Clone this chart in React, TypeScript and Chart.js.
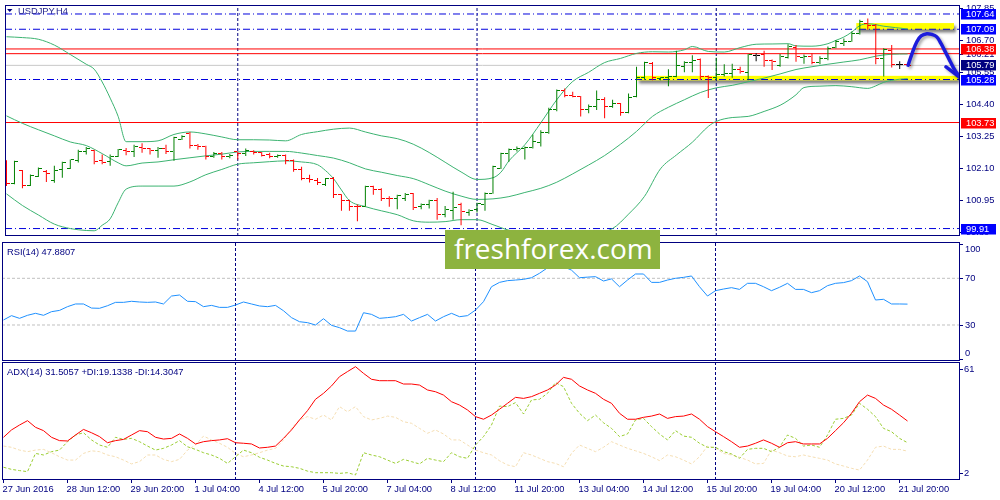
import React, { useEffect, useRef } from "react";
import { Chart, registerables } from "chart.js";
Chart.register(...registerables);

// ---------- DATA ----------
const opens = [102.35, 101.53, 102.00, 101.46, 101.80, 101.98, 101.63, 102.02, 102.08, 102.35,
  102.67, 102.73, 102.35, 102.32, 102.51, 102.74, 102.69, 102.83, 102.78, 102.74,
  102.81, 102.67, 103.13, 103.33, 102.89, 102.86, 102.52, 102.61, 102.51, 102.67,
  102.60, 102.69, 102.64, 102.58, 102.50, 102.56, 102.37, 102.02, 101.71, 101.65,
  101.51, 101.71, 101.13, 100.93, 100.72, 100.72, 101.42, 101.33, 101.01, 100.98,
  101.01, 101.16, 100.70, 100.78, 100.93, 100.40, 100.55, 100.78, 100.49, 100.61,
  100.78, 101.19, 102.09, 102.60, 102.75, 102.79, 102.83, 103.02, 103.37, 104.20,
  104.90, 104.69, 104.67, 104.20, 104.30, 104.55, 104.30, 104.43, 104.09, 104.67,
  105.34, 105.85, 105.30, 105.34, 105.39, 105.74, 105.89, 106.00, 105.39, 105.34,
  105.46, 105.48, 105.65, 105.54, 106.15, 106.18, 105.97, 105.77, 106.08, 106.43,
  106.06, 106.12, 105.89, 106.04, 106.43, 106.58, 106.66, 106.93, 107.31, 107.24,
  106.04, 106.32, 105.81, 105.81];
const highs = [102.37, 102.35, 102.02, 101.86, 102.11, 102.02, 102.17, 102.32, 102.40, 102.75,
  102.85, 102.75, 102.58, 102.58, 102.78, 102.81, 102.93, 102.98, 102.81, 102.85,
  102.93, 103.22, 103.27, 103.39, 102.96, 102.89, 102.67, 102.67, 102.60, 102.69,
  102.79, 102.73, 102.67, 102.64, 102.58, 102.58, 102.40, 102.14, 101.85, 101.73,
  101.73, 101.77, 101.15, 100.95, 100.78, 101.45, 101.45, 101.36, 101.07, 101.13,
  101.19, 101.19, 100.81, 100.95, 101.01, 100.72, 101.24, 100.84, 100.61, 100.84,
  101.21, 102.17, 102.64, 102.79, 102.87, 102.87, 103.30, 103.45, 104.26, 104.92,
  104.96, 104.84, 104.69, 104.38, 104.88, 104.64, 104.55, 104.43, 104.78, 105.74,
  105.92, 105.91, 105.36, 105.65, 106.32, 105.94, 106.15, 106.04, 105.42, 106.06,
  105.83, 105.85, 105.74, 106.20, 106.23, 106.32, 106.00, 106.20, 106.55, 106.52,
  106.18, 106.23, 106.12, 106.47, 106.70, 106.76, 107.01, 107.43, 107.48, 107.28,
  106.41, 106.52, 105.94, 105.82];
const lows = [101.44, 101.51, 101.36, 101.44, 101.77, 101.59, 101.56, 101.74, 102.06, 102.29,
  102.58, 102.23, 102.23, 102.17, 102.49, 102.55, 102.49, 102.64, 102.58, 102.46,
  102.60, 102.35, 103.10, 102.79, 102.75, 102.40, 102.46, 102.40, 102.44, 102.40,
  102.52, 102.58, 102.51, 102.44, 102.46, 102.23, 101.96, 101.65, 101.57, 101.48,
  101.44, 101.01, 100.55, 100.55, 100.17, 100.70, 101.13, 100.90, 100.70, 100.61,
  100.90, 100.58, 100.61, 100.63, 100.23, 100.32, 100.23, 100.03, 100.37, 100.49,
  100.55, 101.16, 102.06, 102.32, 102.69, 102.40, 102.79, 102.87, 103.33, 104.14,
  104.64, 104.64, 103.95, 104.06, 104.18, 103.88, 104.26, 103.97, 104.06, 104.64,
  105.27, 105.25, 105.25, 105.04, 105.36, 105.54, 105.54, 105.27, 104.61, 105.27,
  105.39, 105.34, 105.50, 105.25, 105.94, 105.74, 105.62, 105.74, 106.04, 105.92,
  105.85, 105.83, 105.83, 105.97, 106.41, 106.49, 106.64, 106.90, 107.08, 105.83,
  105.39, 105.71, 105.66, 105.78];
const closes = [101.53, 102.32, 101.46, 101.83, 102.09, 101.91, 102.00, 102.29, 102.38, 102.69,
  102.79, 102.32, 102.30, 102.52, 102.75, 102.69, 102.85, 102.78, 102.74, 102.81,
  102.67, 103.18, 103.22, 102.89, 102.87, 102.52, 102.61, 102.52, 102.56, 102.62,
  102.72, 102.64, 102.56, 102.49, 102.56, 102.37, 102.02, 101.71, 101.67, 101.56,
  101.71, 101.13, 100.93, 100.72, 100.70, 101.42, 101.33, 101.01, 100.98, 101.09,
  101.13, 100.66, 100.78, 100.93, 100.43, 100.61, 100.66, 100.51, 100.55, 100.81,
  101.16, 102.14, 102.60, 102.75, 102.81, 102.83, 103.04, 103.37, 104.20, 104.90,
  104.69, 104.67, 104.20, 104.32, 104.55, 104.32, 104.43, 104.09, 104.64, 105.36,
  105.89, 105.34, 105.34, 105.39, 105.77, 105.89, 105.97, 105.39, 105.34, 105.46,
  105.48, 105.65, 105.57, 106.18, 106.15, 105.97, 105.94, 106.12, 106.47, 106.12,
  106.12, 105.89, 106.04, 106.41, 106.64, 106.66, 106.93, 107.36, 107.24, 106.04,
  106.35, 105.81, 105.81, 105.79];

const upperX = [0, 2, 4, 6, 8, 10, 11, 12, 13, 14, 15, 17, 19, 21, 23, 25, 27, 29, 31, 33, 35, 37, 39, 41, 43, 45, 47, 49, 51, 53, 55, 57, 59, 61, 62, 63, 65, 67, 69, 71, 73, 75, 77, 79, 81, 83, 85, 86, 88, 90, 92, 94, 96, 98, 99, 101, 103, 104, 105, 106, 107, 108, 110, 113];
const upperY = [106.82, 106.79, 106.73, 106.52, 106.18, 105.83, 105.65, 105.19, 104.61, 103.95, 103.04, 103.04, 103.07, 103.30, 103.39, 103.32, 103.21, 103.11, 103.11, 103.10, 103.07, 103.30, 103.40, 103.49, 103.53, 103.39, 103.25, 103.15, 102.95, 102.65, 102.30, 101.95, 101.68, 101.74, 101.94, 102.35, 102.93, 103.72, 104.55, 105.21, 105.54, 105.89, 106.04, 106.22, 106.28, 106.27, 106.35, 106.47, 106.29, 106.27, 106.43, 106.55, 106.56, 106.57, 106.49, 106.48, 106.57, 106.69, 106.81, 106.99, 107.22, 107.29, 107.20, 107.10];
const midX = [0, 2, 4, 6, 8, 10, 12, 14, 15, 17, 19, 21, 23, 25, 27, 29, 31, 33, 35, 37, 39, 41, 43, 45, 47, 49, 51, 53, 55, 57, 59, 61, 63, 65, 67, 69, 71, 73, 75, 77, 79, 81, 83, 85, 87, 89, 91, 93, 95, 97, 99, 101, 103, 105, 107, 109, 111, 113];
const midY = [103.97, 103.70, 103.47, 103.25, 103.03, 102.90, 102.61, 102.28, 102.17, 102.27, 102.31, 102.39, 102.46, 102.53, 102.59, 102.67, 102.69, 102.69, 102.69, 102.63, 102.54, 102.45, 102.28, 102.06, 101.94, 101.82, 101.71, 101.49, 101.26, 101.08, 100.96, 100.98, 101.06, 101.21, 101.36, 101.58, 101.88, 102.20, 102.54, 102.95, 103.41, 103.95, 104.28, 104.55, 104.81, 104.98, 105.07, 105.20, 105.33, 105.48, 105.64, 105.74, 105.83, 105.91, 105.99, 106.12, 106.19, 106.20];
const lowerX = [0, 2, 4, 6, 8, 10, 11, 12, 13, 14, 15, 17, 19, 21, 23, 25, 27, 29, 31, 33, 35, 37, 39, 40, 41, 42, 43, 45, 47, 49, 51, 53, 55, 57, 59, 61, 63, 66, 70, 74, 76, 78, 80, 82, 84, 86, 88, 89, 91, 93, 95, 97, 98, 99, 100, 102, 104, 106, 108, 109, 110, 112, 113];
const lowerY = [101.16, 100.74, 100.40, 100.07, 99.91, 99.84, 99.83, 100.03, 100.26, 100.84, 101.33, 101.44, 101.44, 101.44, 101.59, 101.85, 102.04, 102.23, 102.28, 102.32, 102.35, 102.31, 102.21, 102.00, 101.71, 101.30, 100.92, 100.70, 100.55, 100.41, 100.19, 100.14, 100.16, 100.23, 100.23, 100.05, 99.85, 99.74, 99.70, 99.77, 99.91, 100.43, 101.07, 102.06, 102.56, 103.02, 103.59, 103.77, 103.91, 103.95, 104.13, 104.35, 104.52, 104.73, 104.99, 105.04, 105.06, 105.02, 104.96, 105.05, 105.18, 105.29, 105.31];

const rsi = [34.3, 38.0, 35.7, 38.3, 40.0, 38.3, 41.4, 42.5, 45.7, 48.0, 48.0, 44.5, 44.3, 46.5, 49.4, 49.4, 50.3, 49.7, 49.4, 49.7,
  48.0, 54.8, 55.7, 50.3, 50.0, 45.7, 46.8, 45.1, 45.1, 47.1, 49.7, 48.0, 46.3, 45.7, 46.8, 42.2, 36.3, 32.8, 32.0, 30.0,
  35.4, 29.7, 27.7, 24.8, 24.8, 40.5, 39.1, 35.7, 36.3, 37.1, 39.1, 33.4, 36.3, 39.1, 33.4, 37.1, 40.0, 37.1, 38.0, 42.8,
  50.0, 62.8, 66.5, 68.0, 68.5, 69.1, 70.5, 74.3, 79.0, 83.0, 80.0, 77.0, 70.5, 71.0, 71.4, 67.7, 69.5, 62.8, 68.5, 73.7,
  73.7, 66.5, 66.5, 68.5, 70.0, 70.8, 72.0, 62.8, 54.8, 59.4, 60.8, 62.0, 60.5, 65.7, 65.7, 62.8, 59.4, 62.3, 65.7, 60.5,
  60.5, 57.7, 59.4, 63.7, 65.7, 66.3, 68.0, 72.0, 67.1, 51.4, 52.0, 48.0, 48.0, 47.88];
const rsiLevels = [70, 30];

const adx = [22.2, 26.4, 29.2, 31.7, 27.9, 26.0, 22.2, 20.3, 20.1, 23.5, 26.7, 24.8, 22.6, 19.1, 20.3, 21.0, 23.5, 26.0, 25.4, 22.2,
  21.2, 21.6, 24.1, 21.6, 18.4, 19.7, 20.3, 20.7, 21.4, 19.1, 18.8, 18.4, 16.1, 16.5, 17.2, 21.6, 26.4, 32.1, 37.4, 43.9,
  47.3, 51.5, 56.8, 59.7, 62.5, 58.7, 55.3, 54.5, 54.5, 54.5, 52.6, 52.6, 52.0, 49.2, 48.2, 46.3, 42.5, 40.6, 37.8, 34.0,
  32.5, 34.9, 38.2, 41.6, 45.0, 44.4, 45.4, 47.3, 49.2, 52.0, 56.4, 55.3, 51.5, 49.2, 47.3, 43.9, 41.6, 35.9, 32.5, 32.5,
  33.6, 34.3, 35.5, 33.0, 34.0, 34.3, 35.5, 32.5, 28.3, 25.4, 22.6, 19.7, 16.5, 17.2, 18.8, 20.7, 18.8, 16.5, 19.1, 19.7,
  18.4, 18.4, 18.4, 21.6, 26.0, 30.5, 35.9, 42.5, 46.3, 44.4, 40.6, 38.2, 34.9, 31.5];
const plusDi = [5.1, 3.9, 3.2, 2.6, 13.0, 12.1, 14.0, 14.9, 19.7, 23.5, 24.8, 20.7, 17.8, 16.5, 22.2, 21.0, 21.6, 19.7, 17.2, 14.9,
  15.9, 17.8, 20.3, 16.8, 15.3, 13.4, 12.1, 10.2, 7.3, 11.1, 14.9, 13.4, 10.8, 9.2, 7.3, 5.8, 5.4, 4.5, 2.9, 2.0,
  2.0, 2.0, 1.6, 2.0, 0.7, 13.4, 12.1, 11.1, 9.2, 7.3, 9.6, 8.3, 7.0, 10.2, 9.2, 8.3, 13.4, 11.1, 10.2, 17.8,
  22.6, 29.2, 40.0, 39.7, 42.0, 35.5, 43.5, 43.9, 47.3, 53.4, 51.1, 41.6, 35.9, 31.7, 34.9, 30.5, 27.3, 22.6, 24.1, 32.1,
  33.0, 28.3, 24.1, 20.7, 26.0, 22.9, 22.2, 18.8, 16.5, 16.5, 14.0, 12.7, 10.2, 15.3, 15.9, 15.9, 14.0, 16.5, 23.5, 21.6,
  17.2, 17.8, 16.5, 23.5, 32.5, 33.0, 34.9, 41.6, 38.2, 34.0, 27.3, 25.4, 21.6, 19.13];
const minusDi = [17.2, 16.5, 14.9, 14.0, 14.9, 15.3, 13.4, 11.1, 9.2, 9.2, 13.0, 14.5, 14.0, 12.1, 11.1, 9.2, 7.0, 8.3, 12.1, 12.1,
  9.6, 8.3, 9.6, 14.9, 17.8, 22.9, 20.7, 18.8, 16.5, 13.0, 11.1, 12.1, 13.4, 14.9, 15.9, 20.7, 27.3, 32.1, 34.0, 32.5,
  34.9, 32.1, 39.7, 36.8, 39.7, 34.0, 32.1, 33.0, 34.3, 33.6, 31.1, 30.2, 27.3, 24.5, 26.4, 24.1, 20.7, 20.7, 17.8, 14.9,
  13.4, 12.1, 8.8, 6.4, 5.4, 13.4, 12.1, 10.2, 8.3, 7.3, 5.4, 13.0, 17.8, 15.9, 14.0, 16.5, 19.7, 17.8, 15.9, 14.5,
  13.0, 11.1, 8.9, 12.1, 11.1, 9.2, 7.0, 11.1, 17.2, 15.9, 13.0, 12.1, 10.8, 9.2, 7.0, 7.3, 14.9, 13.4, 11.5, 11.1,
  12.1, 11.1, 10.2, 9.2, 7.0, 5.8, 4.5, 3.5, 9.2, 16.5, 17.2, 15.3, 15.3, 14.3];

const xLabels = ["27 Jun 2016", "28 Jun 12:00", "29 Jun 20:00", "1 Jul 04:00", "4 Jul 12:00", "5 Jul 20:00", "7 Jul 04:00", "8 Jul 12:00", "11 Jul 20:00", "13 Jul 04:00", "14 Jul 12:00", "15 Jul 20:00", "19 Jul 04:00", "20 Jul 12:00", "21 Jul 20:00"];
const xLabelBars = [0, 8, 16, 24, 32, 40, 48, 56, 64, 72, 80, 88, 96, 104, 112];
const sepBars = [29, 59, 89];

const blueLevels = [107.64, 107.09, 105.28, 99.91];
const redLevels = [106.38, 106.21, 103.73];
const redBoxed = [106.38, 103.73];
const bidLevel = 105.79;
const priceTicks = [107.85, 106.70, 106.21, 105.55, 104.40, 103.25, 102.10, 100.95, 99.80];
const rsiTicks = [100, 70, 30, 0];
const adxTicks = [61, 2];

const rectX0 = [106.56, 79.06];
const rectX1 = [118.81, 119.3];
const rectTop = [107.313, 105.412];
const rectBottom = [107.083, 105.248];

const arrowX = [113.06, 113.56, 114.15, 114.69, 115.4, 116.06, 116.65, 117.19, 117.69, 118.19, 118.73, 119.31, 119.77];
const arrowY = [105.795, 106.223, 106.641, 106.850, 106.930, 106.902, 106.815, 106.571, 106.292, 106.014, 105.711, 105.457, 105.307];
const arrowHeadX = [117.81, 119.77, 119.94];
const arrowHeadY = [105.735, 105.307, 105.84];

// ---------- STYLE ----------
const GREEN = "#008000";
const RED = "#FF0000";
const DOJI = "#000000";
const NAVY = "#000080";
const BLUE = "#0000FF";
const BAND = "#3CB371";
const FONT = '9.3px "Liberation Sans", Arial, sans-serif';
const X_MIN = -0.1875;
const X_MAX = 119.5625;

function border(chart: any) {
  const { ctx, chartArea: a } = chart;
  ctx.save();
  ctx.strokeStyle = NAVY;
  ctx.lineWidth = 1;
  ctx.strokeRect(a.left + 0.5, a.top + 0.5, a.right - a.left - 1, a.bottom - a.top - 1);
  ctx.restore();
}

function hline(v: number, color: string, dash: number[], order: number) {
  return {
    type: "line",
    data: [{ x: X_MIN, y: v }, { x: X_MAX, y: v }],
    borderColor: color,
    borderWidth: 1,
    borderDash: dash,
    pointRadius: 0,
    order,
  };
}
function vline(b: number, y0: number, y1: number, order: number) {
  return {
    type: "line",
    data: [{ x: b, y: y0 }, { x: b, y: y1 }],
    borderColor: NAVY,
    borderWidth: 1,
    borderDash: [3, 2],
    pointRadius: 0,
    order,
  };
}
function series(xs: number[], ys: number[]) {
  return xs.map((x, i) => ({ x, y: ys[i] }));
}
function indexed(ys: number[]) {
  return ys.map((y, i) => ({ x: i, y }));
}

const baseOpts = (yMin: number, yMax: number, pad: any) => ({
  responsive: false,
  animation: false,
  events: [],
  layout: { padding: pad },
  plugins: { legend: { display: false }, tooltip: { enabled: false } },
  elements: { point: { radius: 0 } },
  scales: {
    x: { type: "linear", min: X_MIN, max: X_MAX, display: false, offset: false },
    y: { type: "linear", min: yMin, max: yMax, display: false },
  },
});

export default function App() {
  const mainRef = useRef<HTMLCanvasElement>(null);
  const rsiRef = useRef<HTMLCanvasElement>(null);
  const adxRef = useRef<HTMLCanvasElement>(null);

  useEffect(() => {
    const charts: Chart[] = [];
    const tickCache: Record<string, HTMLCanvasElement> = {};
    const tickImg = (color: string, left: boolean) => {
      const key = color + (left ? "L" : "R");
      if (!tickCache[key]) {
        const c = document.createElement("canvas");
        c.width = 7;
        c.height = 1;
        const g = c.getContext("2d")!;
        g.fillStyle = color;
        g.fillRect(left ? 0 : 4, 0, 3, 1);
        tickCache[key] = c;
      }
      return tickCache[key];
    };
    const barColors = opens.map((o, i) => (closes[i] > o ? GREEN : closes[i] < o ? RED : DOJI));
    const openImgs = barColors.map((c) => tickImg(c, true));
    const closeImgs = barColors.map((c) => tickImg(c, false));

    const P_MIN = 99.642, P_MAX = 107.964;

    const mainPlugin = {
      id: "mainDecor",
      beforeDraw(chart: any) {
        chart.ctx.imageSmoothingEnabled = false;
      },
      beforeDatasetsDraw(chart: any) {
        const { ctx, chartArea: a } = chart;
        const xs = chart.scales.x, ys = chart.scales.y;
        ctx.save();
        ctx.beginPath();
        ctx.rect(a.left, a.top, a.right - a.left, a.bottom - a.top);
        ctx.clip();
        ctx.fillStyle = "#FFFF00";
        ctx.shadowColor = "rgba(0,0,0,0.5)";
        ctx.shadowBlur = 3;
        ctx.shadowOffsetX = 2;
        ctx.shadowOffsetY = 3;
        for (let k = 0; k < rectX0.length; k++) {
          const x0 = xs.getPixelForValue(rectX0[k]);
          const x1 = xs.getPixelForValue(rectX1[k]);
          const y0 = ys.getPixelForValue(rectTop[k]);
          const y1 = ys.getPixelForValue(rectBottom[k]);
          ctx.fillRect(x0, y0, x1 - x0, y1 - y0);
        }
        ctx.restore();
      },
      beforeDatasetDraw(chart: any, args: any) {
        const ds = chart.data.datasets[args.index];
        if (ds.label && String(ds.label).startsWith("arrow")) {
          const c = chart.ctx;
          c.save();
          c.shadowColor = "rgba(0,0,0,0.35)";
          c.shadowBlur = 3;
          c.shadowOffsetX = 2;
          c.shadowOffsetY = 2;
        }
      },
      afterDatasetDraw(chart: any, args: any) {
        const ds = chart.data.datasets[args.index];
        if (ds.label && String(ds.label).startsWith("arrow")) chart.ctx.restore();
      },
      afterDraw(chart: any) {
        const { ctx, chartArea: a } = chart;
        const ys = chart.scales.y;
        border(chart);
        ctx.save();
        // title
        ctx.fillStyle = NAVY;
        ctx.beginPath();
        ctx.moveTo(7, 9);
        ctx.lineTo(12.5, 9);
        ctx.lineTo(9.75, 12);
        ctx.closePath();
        ctx.fill();
        ctx.font = FONT;
        ctx.textBaseline = "alphabetic";
        ctx.textAlign = "left";
        ctx.fillStyle = "#24248c";
        ctx.fillText("USDJPY,H4", 18, 14);
        // plain ticks
        ctx.textBaseline = "middle";
        ctx.strokeStyle = NAVY;
        ctx.lineWidth = 1;
        for (const v of priceTicks) {
          const y = ys.getPixelForValue(v);
          ctx.beginPath();
          ctx.moveTo(a.right, Math.round(y) + 0.5);
          ctx.lineTo(a.right + 3, Math.round(y) + 0.5);
          ctx.stroke();
          ctx.fillStyle = NAVY;
          ctx.fillText(v.toFixed(2), 966, y + 0.5);
        }
        const box = (v: number, bg: string) => {
          const y = ys.getPixelForValue(v);
          ctx.fillStyle = bg;
          ctx.fillRect(961, Math.round(y) - 5, 35, 10.5);
          ctx.fillStyle = "#FFFFFF";
          ctx.fillText(v.toFixed(2), 966, Math.round(y) + 0.5);
        };
        for (const v of redBoxed) box(v, RED);
        for (const v of blueLevels) box(v, BLUE);
        box(bidLevel, NAVY);
        ctx.restore();
      },
    };

    const mainDatasets: any[] = [
      { label: "arrow", type: "line", data: series(arrowX, arrowY), borderColor: "#1c1cdc", borderWidth: 3.5, tension: 0.4, pointRadius: 0, borderCapStyle: "round", borderJoinStyle: "round", order: 0 },
      { label: "arrowHead", type: "line", data: series(arrowHeadX, arrowHeadY), borderColor: "#1c1cdc", borderWidth: 3.5, tension: 0, pointRadius: 0, borderCapStyle: "round", borderJoinStyle: "round", order: 0 },
      { label: "open", type: "scatter", data: indexed(opens), pointStyle: openImgs, pointRadius: 3, order: 1 },
      { label: "close", type: "scatter", data: indexed(closes), pointStyle: closeImgs, pointRadius: 3, order: 1 },
      { label: "hl", type: "bar", data: highs.map((h, i) => ({ x: i, y: [lows[i], h] })), backgroundColor: barColors, borderWidth: 0, barThickness: 1, maxBarThickness: 1, inflateAmount: 0, order: 2 },
      { label: "upper", type: "line", data: series(upperX, upperY), borderColor: BAND, borderWidth: 1, pointRadius: 0, cubicInterpolationMode: "monotone", order: 3 },
      { label: "mid", type: "line", data: series(midX, midY), borderColor: BAND, borderWidth: 1, pointRadius: 0, cubicInterpolationMode: "monotone", order: 3 },
      { label: "lower", type: "line", data: series(lowerX, lowerY), borderColor: BAND, borderWidth: 1, pointRadius: 0, cubicInterpolationMode: "monotone", order: 3 },
      ...redLevels.map((v) => hline(v, RED, [], 4)),
      ...blueLevels.map((v) => hline(v, "#0000DD", [7, 3, 1, 3], 4)),
      ...sepBars.map((b) => vline(b, P_MIN, P_MAX, 5)),
      hline(bidLevel, "#C8C8C8", [], 6),
    ];

    charts.push(
      new Chart(mainRef.current!, {
        type: "bar",
        data: { datasets: mainDatasets },
        options: baseOpts(P_MIN, P_MAX, { left: 2, right: 40, top: 2, bottom: 0 }) as any,
        plugins: [mainPlugin],
      } as any)
    );

    // RSI
    const R_MIN = -0.86, R_MAX = 101.11;
    const rsiPlugin = {
      id: "rsiDecor",
      afterDraw(chart: any) {
        const { ctx, chartArea: a } = chart;
        const ys = chart.scales.y;
        border(chart);
        ctx.save();
        ctx.font = FONT;
        ctx.fillStyle = NAVY;
        ctx.textAlign = "left";
        ctx.textBaseline = "alphabetic";
        ctx.fillText("RSI(14) 47.8807", 7, 14);
        ctx.textBaseline = "middle";
        ctx.strokeStyle = NAVY;
        for (const v of rsiTicks) {
          const y = ys.getPixelForValue(v);
          const ty = Math.min(Math.max(y, a.top + 7.3), a.bottom - 7.7);
          ctx.beginPath();
          ctx.moveTo(a.right, Math.round(Math.min(Math.max(y, a.top + 2), a.bottom - 2)) + 0.5);
          ctx.lineTo(a.right + 3, Math.round(Math.min(Math.max(y, a.top + 2), a.bottom - 2)) + 0.5);
          ctx.stroke();
          ctx.fillText(String(v), 965, ty + 0.5);
        }
        ctx.restore();
      },
    };
    charts.push(
      new Chart(rsiRef.current!, {
        type: "line",
        data: {
          datasets: [
            { label: "rsi", data: indexed(rsi), borderColor: "#1E90FF", borderWidth: 1, pointRadius: 0, order: 0 },
            ...rsiLevels.map((v) => hline(v, "#C0C0C0", [3, 2], 2)),
            ...sepBars.map((b) => vline(b, R_MIN, R_MAX, 1)),
          ],
        },
        options: baseOpts(R_MIN, R_MAX, { left: 2, right: 40, top: 1, bottom: 0 }) as any,
        plugins: [rsiPlugin],
      } as any)
    );

    // ADX
    const A_MIN = -2.17, A_MAX = 65.17;
    const adxPlugin = {
      id: "adxDecor",
      afterDraw(chart: any) {
        const { ctx, chartArea: a } = chart;
        const ys = chart.scales.y, xs = chart.scales.x;
        border(chart);
        ctx.save();
        ctx.font = FONT;
        ctx.fillStyle = NAVY;
        ctx.textAlign = "left";
        ctx.textBaseline = "alphabetic";
        ctx.fillText("ADX(14) 31.5057 +DI:19.1338 -DI:14.3047", 7, 14);
        ctx.textBaseline = "middle";
        ctx.strokeStyle = NAVY;
        ctx.lineWidth = 1;
        for (const v of adxTicks) {
          const y = ys.getPixelForValue(v);
          ctx.beginPath();
          ctx.moveTo(a.right, Math.round(y) + 0.5);
          ctx.lineTo(a.right + 3, Math.round(y) + 0.5);
          ctx.stroke();
          ctx.fillText(String(v), 964, y + 0.5);
        }
        ctx.textBaseline = "alphabetic";
        for (let k = 0; k < xLabels.length; k++) {
          const x = xs.getPixelForValue(xLabelBars[k]);
          ctx.beginPath();
          ctx.moveTo(Math.round(x - 0.5) + 0.5, a.bottom);
          ctx.lineTo(Math.round(x - 0.5) + 0.5, a.bottom + 3);
          ctx.stroke();
          ctx.fillText(xLabels[k], x - 1, a.bottom + 11.7);
        }
        ctx.restore();
      },
    };
    charts.push(
      new Chart(adxRef.current!, {
        type: "line",
        data: {
          datasets: [
            { label: "adx", data: indexed(adx), borderColor: "#FF0000", borderWidth: 1, pointRadius: 0, order: 0 },
            { label: "+di", data: indexed(plusDi), borderColor: "#9ACD32", borderWidth: 1, borderDash: [3, 2], pointRadius: 0, order: 1 },
            { label: "-di", data: indexed(minusDi), borderColor: "#F5DEB3", borderWidth: 1, borderDash: [3, 2], pointRadius: 0, order: 2 },
            ...sepBars.map((b) => vline(b, A_MIN, A_MAX, 3)),
          ],
        },
        options: baseOpts(A_MIN, A_MAX, { left: 2, right: 40, top: 1, bottom: 20 }) as any,
        plugins: [adxPlugin],
      } as any)
    );

    return () => charts.forEach((c) => c.destroy());
  }, []);

  return (
    <div style={{ position: "absolute", left: 0, top: 0, width: 1000, height: 500, background: "#FFFFFF", overflow: "hidden" }}>
      <canvas ref={mainRef} width={1000} height={241} style={{ position: "absolute", left: 0, top: 0, width: 1000, height: 241 }} />
      <canvas ref={rsiRef} width={1000} height={120} style={{ position: "absolute", left: 0, top: 241, width: 1000, height: 120 }} />
      <canvas ref={adxRef} width={1000} height={139} style={{ position: "absolute", left: 0, top: 361, width: 1000, height: 139 }} />
      <div
        style={{
          position: "absolute",
          left: 445,
          top: 230,
          width: 215,
          height: 39,
          background: "#8DB33F",
          color: "#FFFFFF",
          fontFamily: '"Open Sans", sans-serif',
          fontSize: 28,
          lineHeight: "37px",
          paddingLeft: 9,
          boxSizing: "border-box",
          whiteSpace: "nowrap",
          overflow: "hidden",
        }}
      >
        freshforex.com
      </div>
    </div>
  );
}
